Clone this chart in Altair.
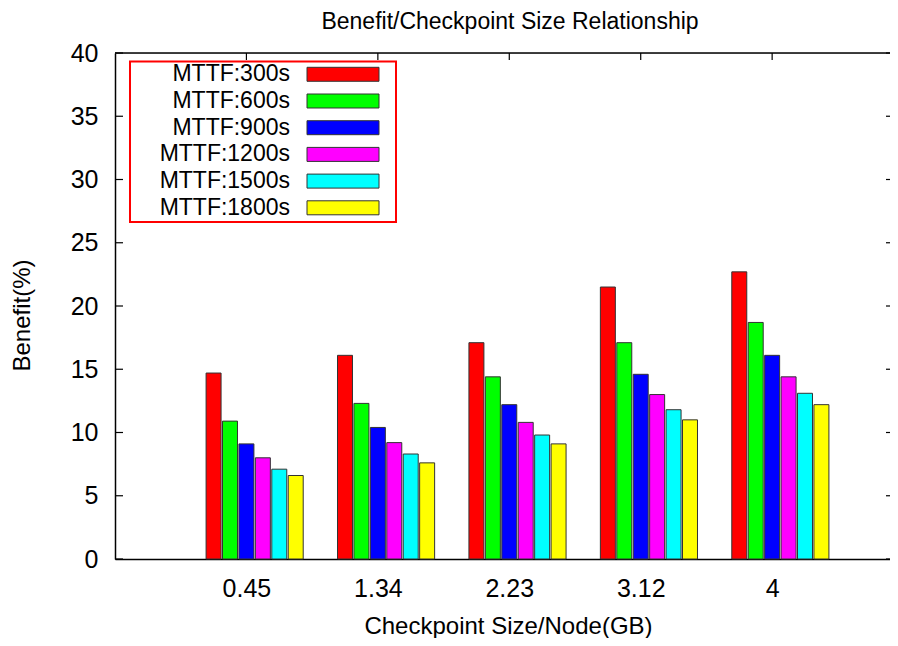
import json
import altair as alt
import pandas as pd

# ---- data ----
sizes = ["0.45", "1.34", "2.23", "3.12", "4"]
series = ["MTTF:300s", "MTTF:600s", "MTTF:900s", "MTTF:1200s", "MTTF:1500s", "MTTF:1800s"]
mttf_300 = [14.7, 16.1, 17.1, 21.5, 22.7]
mttf_600 = [10.9, 12.3, 14.4, 17.1, 18.7]
mttf_900 = [9.1, 10.4, 12.2, 14.6, 16.1]
mttf_1200 = [8.0, 9.2, 10.8, 13.0, 14.4]
mttf_1500 = [7.1, 8.3, 9.8, 11.8, 13.1]
mttf_1800 = [6.6, 7.6, 9.1, 11.0, 12.2]
colors = ["#ff0000", "#00ff00", "#0000ff", "#ff00ff", "#00ffff", "#ffff00"]
dashes = [[1, 0], [4, 2], [3, 2, 1, 2], [1, 2], [6, 2, 1, 2], [2, 3]]
y_ticks = [0, 5, 10, 15, 20, 25, 30, 35, 40]

all_vals = [mttf_300, mttf_600, mttf_900, mttf_1200, mttf_1500, mttf_1800]
rows = []
for si, (name, vals) in enumerate(zip(series, all_vals)):
    for gi, (sz, v) in enumerate(zip(sizes, vals)):
        rows.append({"size": sz, "series": name, "value": v, "gi": gi, "si": si})
df = pd.DataFrame(rows)
ser_df = pd.DataFrame({"series": series})
tick_df = pd.DataFrame({"v": y_ticks})
grp_df = pd.DataFrame({"g": list(range(len(sizes)))})

PX_PER_UNIT = 782 / 5.95
W, H = 775, 506
FONT = "Liberation Sans"
label_expr = json.dumps(sizes) + "[datum.value]"

xscale = alt.Scale(domain=[-1, -1 + W / PX_PER_UNIT], nice=False, zero=False)
yscale = alt.Scale(domain=[0, 40], nice=False)
color_scale = alt.Scale(domain=series, range=colors)
dash_scale = alt.Scale(domain=series, range=dashes)

x_axis = alt.Axis(values=list(range(len(sizes))), labelExpr=label_expr,
                  title="Checkpoint Size/Node(GB)", grid=False, ticks=False,
                  tickSize=0, labelPadding=17, labelFontSize=25,
                  titleFontSize=24, titleFontWeight="normal",
                  titleBaseline="alphabetic", titleY=74, titleX=393,
                  domainColor="black", domainWidth=1.5,
                  labelColor="black", titleColor="black")

bars = alt.Chart(df).transform_calculate(
    xc="datum.gi + (datum.si - 2) * 0.125"
).transform_calculate(
    x1="datum.xc - 0.057", x2="datum.xc + 0.057"
).mark_rect(stroke="#333333", strokeWidth=1).encode(
    x=alt.X("x1:Q", scale=xscale, axis=x_axis),
    x2="x2:Q",
    y=alt.Y("value:Q", scale=yscale,
            axis=alt.Axis(values=y_ticks, title="Benefit(%)", grid=False, ticks=False,
                          tickSize=0, labelPadding=17, labelFontSize=25,
                          titleFontSize=24, titleFontWeight="normal",
                          titleAngle=270, titleAlign="center", titleBaseline="alphabetic",
                          titleX=-86, titleY=262,
                          domainColor="black", domainWidth=1.5,
                          labelColor="black", titleColor="black")),
    y2=alt.datum(0),
    color=alt.Color("series:N", scale=color_scale, legend=None),
    strokeDash=alt.StrokeDash("series:N", scale=dash_scale, legend=None),
)

left_ticks = alt.Chart(tick_df).mark_rule(color="black", strokeWidth=1.2).encode(
    y=alt.Y("v:Q", scale=yscale, axis=None), x=alt.value(0), x2=alt.value(8))
right_ticks = alt.Chart(tick_df).mark_rule(color="black", strokeWidth=1.2).encode(
    y=alt.Y("v:Q", scale=yscale, axis=None), x=alt.value(W - 4), x2=alt.value(W))
top_ticks = alt.Chart(grp_df).mark_rule(color="black", strokeWidth=1.2).encode(
    x=alt.X("g:Q", scale=xscale, axis=x_axis), y=alt.value(0), y2=alt.value(7))
top_border = alt.Chart(grp_df).transform_filter("datum.g == 0").mark_rule(
    color="black", strokeWidth=1.5).encode(
    x=alt.value(0), x2=alt.value(W), y=alt.value(0))

title_txt = alt.Chart(grp_df).transform_filter("datum.g == 0").mark_text(
    text="Benefit/Checkpoint Size Relationship", fontSize=23, font=FONT, color="black",
    align="center", baseline="alphabetic").encode(
    x=alt.value(395), y=alt.value(-24))

legend_box = alt.Chart(grp_df).transform_filter("datum.g == 0").mark_rect(
    fill="white", stroke="#ff0000", strokeWidth=2).encode(
    x=alt.value(15), x2=alt.value(281), y=alt.value(8.5), y2=alt.value(169))

leg_y = alt.Y("series:N", sort=series,
              scale=alt.Scale(type="band", domain=series, range=[14.3, 161.8],
                              paddingInner=0.476, paddingOuter=0),
              axis=None)
legend_sw = alt.Chart(ser_df).mark_rect(stroke="#333333", strokeWidth=1).encode(
    y=leg_y, x=alt.value(192), x2=alt.value(264),
    color=alt.Color("series:N", scale=color_scale, legend=None),
    strokeDash=alt.StrokeDash("series:N", scale=dash_scale, legend=None),
)
legend_txt = alt.Chart(ser_df).mark_text(align="right", baseline="middle", fontSize=23,
                                         font=FONT, color="black").encode(
    y=leg_y, x=alt.value(175), text="series:N")

chart = alt.layer(
    bars, left_ticks, right_ticks, legend_box, top_ticks, top_border, title_txt,
    legend_sw, legend_txt
).resolve_scale(y="independent").properties(
    width=W, height=H,
    autosize=alt.AutoSizeParams(type="none"),
    padding={"left": 107, "top": 45, "right": 0, "bottom": 79},
).configure_view(stroke=None).configure(font=FONT)

chart.save("out.html", embed_options={"renderer": "svg", "actions": False})
